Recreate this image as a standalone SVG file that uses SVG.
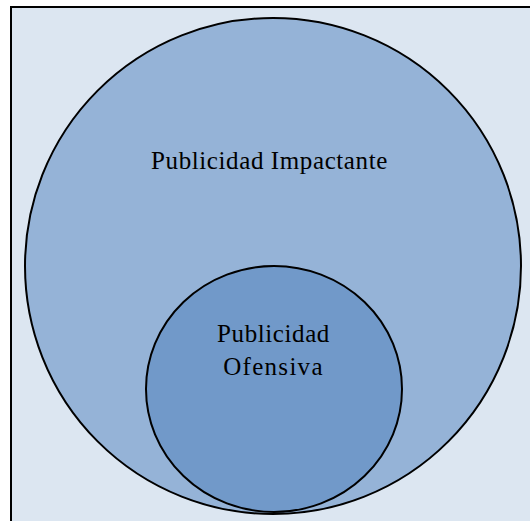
<svg xmlns="http://www.w3.org/2000/svg" width="530" height="521" viewBox="0 0 530 521">
  <style>
    .label { font-family: "Liberation Serif", "Times New Roman", serif; font-size: 25px; fill: #000; text-anchor: middle; letter-spacing: 0.6px; }
    .set { stroke: #000; stroke-width: 2; }
  </style>
  <!-- frame -->
  <rect x="11" y="7" width="530" height="530" fill="#DCE6F1" stroke="#000" stroke-width="2"/>
  <g id="impactante">
    <ellipse class="set" cx="273" cy="266" rx="248" ry="248" fill="#95B3D7"/>
    <text class="label" x="269.5" y="169">Publicidad Impactante</text>
  </g>
  <g id="ofensiva">
    <ellipse class="set" cx="274" cy="389" rx="128" ry="123" fill="#7199C9"/>
    <text class="label" x="273.5" y="342">Publicidad</text>
    <text class="label" x="273.5" y="375" style="letter-spacing:1.3px">Ofensiva</text>
  </g>
  <g id="connectors"/>
</svg>
